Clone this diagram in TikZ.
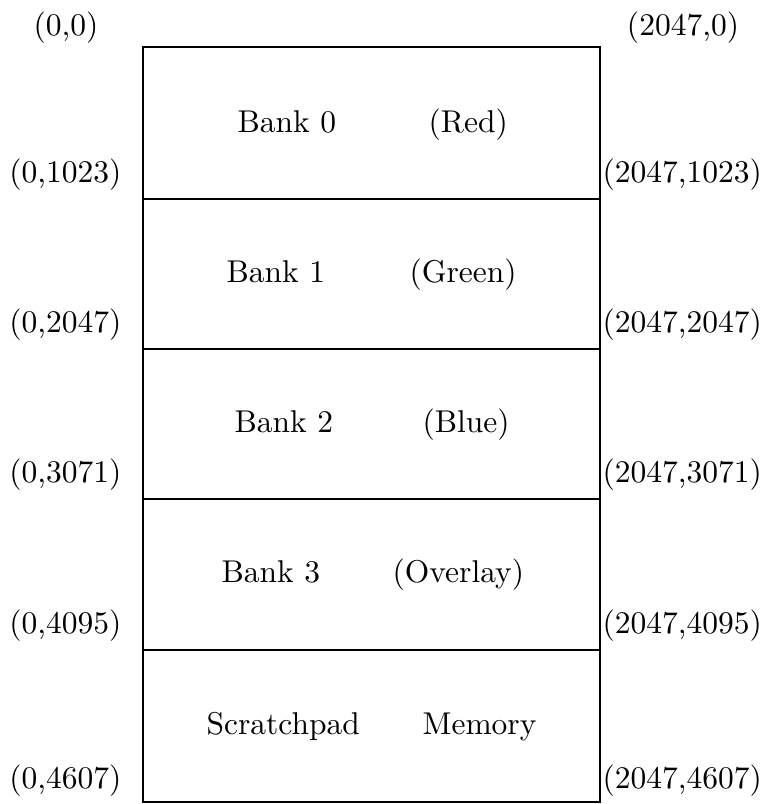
\documentclass[tikz,border=0pt]{standalone}
\begin{document}
\begin{tikzpicture}[x=1pt,y=-1pt,
  lbl/.style={inner sep=0pt, font=\normalsize, scale=3.15},
  frame/.style={line width=1.6pt}]
\useasboundingbox (0,0) rectangle (767,804);
% box and dividers
\draw[frame] (143,47) rectangle (600,802);
\foreach \y in {199,349,499,650} \draw[frame] (143,\y) -- (600,\y);
% top labels
\node[lbl, anchor=base] (tl) at (66,35) {(0,0)};
\node[lbl, anchor=base] (tr) at (683,35) {(2047,0)};
% left labels
\node[lbl, anchor=base east] (l1) at (122,182) {(0,1023)};
\node[lbl, anchor=base east] (l2) at (122,332) {(0,2047)};
\node[lbl, anchor=base east] (l3) at (122,482) {(0,3071)};
\node[lbl, anchor=base east] (l4) at (122,633) {(0,4095)};
\node[lbl, anchor=base east] (l5) at (122,788) {(0,4607)};
% right labels
\node[lbl, anchor=base west] (r1) at (602,182) {(2047,1023)};
\node[lbl, anchor=base west] (r2) at (602,332) {(2047,2047)};
\node[lbl, anchor=base west] (r3) at (602,482) {(2047,3071)};
\node[lbl, anchor=base west] (r4) at (602,633) {(2047,4095)};
\node[lbl, anchor=base west] (r5) at (602,788) {(2047,4607)};
% bank texts
\node[lbl, anchor=base west] (b0) at (237,132) {Bank 0};
\node[lbl, anchor=base west] (c0) at (428,132) {(Red)};
\node[lbl, anchor=base west] (b1) at (226,282) {Bank 1};
\node[lbl, anchor=base west] (c1) at (409,282) {(Green)};
\node[lbl, anchor=base west] (b2) at (234,432) {Bank 2};
\node[lbl, anchor=base west] (c2) at (422,432) {(Blue)};
\node[lbl, anchor=base west] (b3) at (221,582) {Bank 3};
\node[lbl, anchor=base west] (c3) at (392,582) {(Overlay)};
\node[lbl, anchor=base west] (b4) at (206,734) {Scratchpad};
\node[lbl, anchor=base west] (c4) at (422,734) {Memory};
\end{tikzpicture}
\end{document}
